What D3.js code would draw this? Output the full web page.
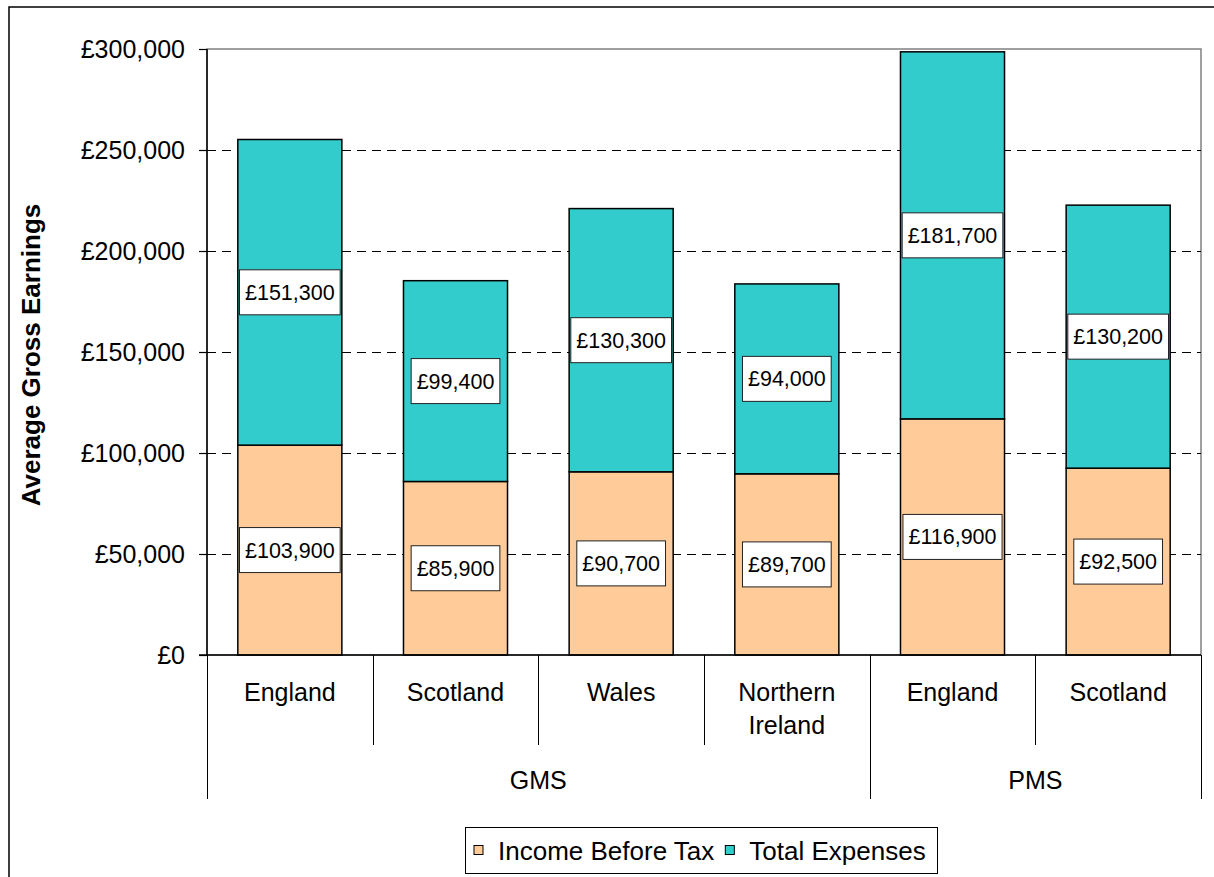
<!DOCTYPE html>
<html><head><meta charset="utf-8">
<script src="https://cdn.jsdelivr.net/npm/d3@7"></script>
<style>body{margin:0;background:#fff}svg{display:block}text{font-family:"Liberation Sans",Arial,sans-serif;fill:#000}</style>
</head><body><svg id="c" width="1214" height="877"></svg>
<script>
const categories = ["England","Scotland","Wales","Northern\nIreland","England","Scotland"];
const groupOf = ["GMS","GMS","GMS","GMS","PMS","PMS"];
const groupNames = ["GMS","PMS"];
const income = [103900,85900,90700,89700,116900,92500];
const expenses = [151300,99400,130300,94000,181700,130200];
const seriesNames = ["Income Before Tax","Total Expenses"];
const seriesColors = ["#FFCC99","#33CCCC"];
const yTicks = [0,50000,100000,150000,200000,250000,300000];
const yTitle = "Average Gross Earnings";

const svg = d3.select("#c");
const L = 207, R = 1201, T = 49, B = 655;
const fmt = v => "£" + d3.format(",")(v);

// outer chart border
svg.append("rect").attr("x",9).attr("y",7).attr("width",1220).attr("height",900)
  .attr("fill","#fff").attr("stroke","#000").attr("stroke-width",1.5);

const idx = d3.range(categories.length);
const x = d3.scaleBand().domain(idx).range([L,R]).paddingInner(0.372).paddingOuter(0.186);
const y = d3.scaleLinear().domain([0,300000]).range([B,T]);

// plot area border (gray top/right)
svg.append("rect").attr("x",L).attr("y",T).attr("width",R-L).attr("height",B-T)
  .attr("fill","#fff").attr("stroke","#808080").attr("stroke-width",1.5);

// gridlines
svg.append("g").selectAll("line").data(yTicks.filter(t=>t>0 && t<300000)).join("line")
  .attr("x1",L).attr("x2",R).attr("y1",d=>Math.round(y(d))+0.5).attr("y2",d=>Math.round(y(d))+0.5)
  .attr("stroke","#000").attr("stroke-width",1).attr("stroke-dasharray","9,6");

// stacked bars
const stackData = idx.map(i => ({i, income: income[i], expenses: expenses[i]}));
const stack = d3.stack().keys(["income","expenses"])(stackData);
const gBars = svg.append("g");
stack.forEach((layer, li) => {
  gBars.append("g").selectAll("rect").data(layer).join("rect")
    .attr("x", d => x(d.data.i))
    .attr("width", x.bandwidth())
    .attr("y", d => y(d[1]))
    .attr("height", d => y(d[0]) - y(d[1]))
    .attr("fill", seriesColors[li]).attr("stroke","#000").attr("stroke-width",1.5);
});

// data labels
const gLab = svg.append("g");
stack.forEach(layer => {
  layer.forEach(d => {
    const cx = x(d.data.i) + x.bandwidth()/2;
    const cy = y((d[0]+d[1])/2);
    const g = gLab.append("g");
    const t = g.append("text").attr("x",cx).attr("y",cy+7.5).attr("text-anchor","middle")
      .attr("font-size",21.5).text(fmt(d[1]-d[0]));
    const w = t.node().getComputedTextLength() + 11;
    g.insert("rect","text").attr("x",cx-w/2).attr("y",cy-22.5).attr("width",w).attr("height",45)
      .attr("fill","#fff").attr("stroke","#222").attr("stroke-width",1);
  });
});

// y axis
const yAxis = d3.axisLeft(y).tickValues(yTicks).tickFormat(fmt).tickSize(8).tickPadding(14);
const gy = svg.append("g").attr("transform",`translate(${L},0)`).call(yAxis);
gy.select(".domain").attr("stroke","#000").attr("stroke-width",1.5).attr("d",`M0,${T}V${B}`);
gy.selectAll(".tick line").attr("stroke","#000").attr("stroke-width",1.2);
gy.selectAll(".tick text").attr("font-size",25).attr("font-family",'"Liberation Sans",Arial,sans-serif').attr("fill","#000");

// x axis baseline
svg.append("line").attr("x1",L-8).attr("x2",R).attr("y1",B).attr("y2",B).attr("stroke","#000").attr("stroke-width",1.5);

// category labels and dividers
const step = x.step();
const gx = svg.append("g");
idx.forEach(i => {
  const cx = x(i) + x.bandwidth()/2;
  const lines = categories[i].split("\n");
  lines.forEach((ln,k) => {
    gx.append("text").attr("x",cx).attr("y",701 + k*33).attr("text-anchor","middle")
      .attr("font-size",25).text(ln);
  });
});
for (let k = 0; k <= categories.length; k++) {
  const xx = Math.round(L + k*step) + 0.5;
  const isGroupEdge = (k === 0 || k === categories.length || groupOf[k] !== groupOf[k-1]);
  gx.append("line").attr("x1",xx).attr("x2",xx).attr("y1",B).attr("y2",isGroupEdge ? 799 : 745)
    .attr("stroke","#000").attr("stroke-width",1);
}
groupNames.forEach(gname => {
  const members = idx.filter(i => groupOf[i] === gname);
  const x0 = L + d3.min(members)*step, x1 = L + (d3.max(members)+1)*step;
  gx.append("text").attr("x",(x0+x1)/2).attr("y",789).attr("text-anchor","middle")
    .attr("font-size",25).text(gname);
});

// y title
svg.append("text").attr("transform",`translate(40,${(T+B)/2+3}) rotate(-90)`)
  .attr("text-anchor","middle").attr("font-size",26).attr("font-weight","bold").text(yTitle);

// legend
const lg = svg.append("g");
lg.append("rect").attr("x",465.5).attr("y",827.5).attr("width",472).attr("height",46)
  .attr("fill","#fff").attr("stroke","#000").attr("stroke-width",1);
let lx = 474;
seriesNames.forEach((s,i) => {
  lg.append("rect").attr("x",lx).attr("y",845.5).attr("width",9).attr("height",9)
    .attr("fill",seriesColors[i]).attr("stroke","#000").attr("stroke-width",1);
  const t = lg.append("text").attr("x",lx+24).attr("y",859.5).attr("font-size",26).text(s);
  lx = lx + 24 + t.node().getComputedTextLength() + 11;
});
</script></body></html>
